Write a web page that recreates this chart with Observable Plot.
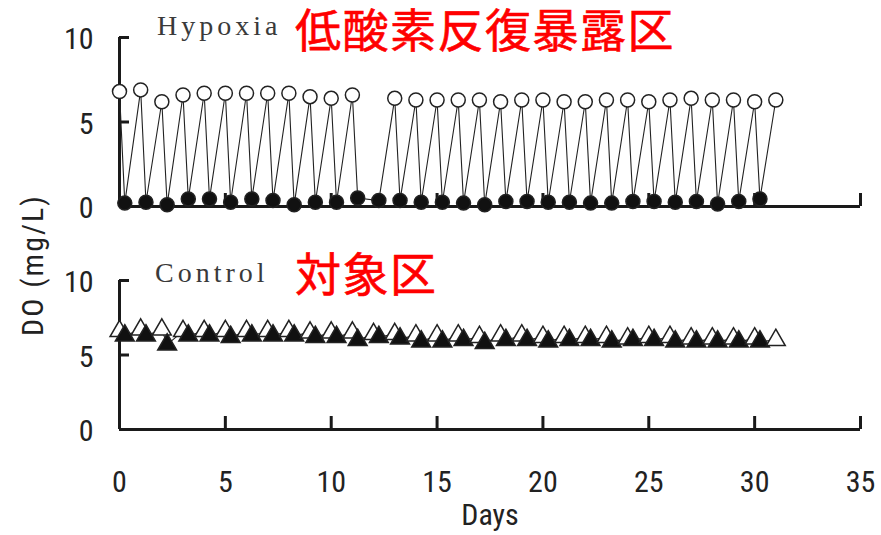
<!DOCTYPE html>
<html><head><meta charset="utf-8">
<script src="https://cdn.jsdelivr.net/npm/d3@7"></script>
<script src="https://cdn.jsdelivr.net/npm/@observablehq/plot@0.6"></script>
<style>
body{margin:0;background:#fff;}
#wrap{position:relative;width:881px;height:535px;overflow:hidden;background:#fff;}
#wrap > svg{position:absolute;left:0;}
</style></head><body><div id="wrap"></div>
<script>
// ---- data ----
const days = d3.range(0, 32);          // sampling days 0..31
const lowOffset = 0.25;                 // low-DO sample taken a quarter day later
const xTicks = [0, 5, 10, 15, 20, 25, 30, 35];
const yTicks = [0, 5, 10];
const xLabel = "Days";
const yLabel = "DO (mg/L)";
// Hypoxia group: open circle = normoxic reading, filled = hypoxic reading
const hypoxiaHigh = [6.8, 6.9, 6.2, 6.6, 6.7, 6.7, 6.7, 6.7, 6.7, 6.5, 6.4, 6.6, null, 6.4, 6.3, 6.3,
                     6.3, 6.3, 6.2, 6.3, 6.3, 6.2, 6.2, 6.3, 6.3, 6.2, 6.3, 6.4, 6.3, 6.3, 6.2, 6.3];
const hypoxiaLow  = [0.2, 0.25, 0.1, 0.45, 0.45, 0.25, 0.45, 0.35, 0.1, 0.25, 0.25, 0.5, 0.35, 0.35, 0.25, 0.25,
                     0.2, 0.1, 0.3, 0.3, 0.25, 0.25, 0.2, 0.2, 0.3, 0.3, 0.25, 0.3, 0.15, 0.3, 0.45];
// Control group: open triangle and filled triangle
const controlHigh = [6.6, 6.7, 6.7, 6.6, 6.6, 6.6, 6.6, 6.6, 6.6, 6.5, 6.5, 6.5, 6.4, 6.4, 6.3, 6.3,
                     6.3, 6.2, 6.3, 6.3, 6.2, 6.2, 6.2, 6.2, 6.1, 6.2, 6.2, 6.1, 6.1, 6.1, 6.1, 6.0];
const controlLow  = [6.3, 6.3, 5.7, 6.3, 6.3, 6.2, 6.3, 6.3, 6.3, 6.2, 6.2, 6.0, 6.2, 6.1, 5.9, 5.9,
                     6.0, 5.8, 6.0, 6.0, 5.9, 6.0, 6.0, 5.9, 6.0, 6.0, 5.9, 5.9, 5.9, 5.9, 5.9];
const titles = {hypoxia: "Hypoxia", hypoxiaJa: "低酸素反復暴露区", control: "Control", controlJa: "対象区"};

function sequence(high, low) {
  const seq = [];
  days.forEach((d, i) => {
    if (high[i] != null) seq.push({day: d, v: high[i], kind: "high"});
    if (i < low.length) seq.push({day: d + lowOffset, v: low[i], kind: "low"});
  });
  return seq;
}

const numFont = '"Liberation Sans Narrow","Arial Narrow","Roboto Condensed",sans-serif';
const ink = "#1a1a1a";

function panel(seq, {symbol, r, height, marginTop, marginBottom, bottom}) {
  return Plot.plot({
    width: 881, height, marginLeft: 119, marginRight: 21, marginTop, marginBottom,
    x: {domain: [0, 35], axis: null},
    y: {domain: [0, 10], axis: null},
    color: {type: "identity"},
    style: {fontFamily: numFont, fontSize: "30px", color: ink, background: "transparent", overflow: "visible"},
    marks: [
      Plot.ruleX([0], {stroke: ink, strokeWidth: 3}),
      Plot.ruleY([0], {stroke: ink, strokeWidth: 3}),
      Plot.axisY({ticks: [5, 10], tickSize: -10, tickFormat: () => "", stroke: ink, strokeWidth: 3, label: null}),
      Plot.axisX({ticks: xTicks.slice(1), tickSize: -13, tickFormat: () => "", stroke: ink, strokeWidth: 3, label: null}),
      Plot.line(seq, {x: "day", y: "v", stroke: "#222", strokeWidth: 1.1}),
      Plot.dot(seq, {x: "day", y: "v", symbol, r, fill: d => d.kind === "high" ? "white" : "#111",
                     stroke: "#222", strokeWidth: 1.5}),
      Plot.axisY({ticks: yTicks, tickSize: 0, tickPadding: 26, label: null, fill: "#222", fontSize: 30, dy: 2}),
      ...(bottom ? [
        Plot.axisX({ticks: xTicks, tickSize: 0, tickPadding: 41, label: null, fill: "#222", fontSize: 30}),
        Plot.text([xLabel], {text: d => d, frameAnchor: "bottom", dy: 95, fontSize: 30, fill: "#222"})
      ] : [])
    ]
  });
}

const wrap = document.getElementById("wrap");
const topPanel = panel(sequence(hypoxiaHigh, hypoxiaLow), {symbol: "circle", r: 7, height: 215, marginTop: 37, marginBottom: 9});
topPanel.style.top = "0px";
const botPanel = panel(sequence(controlHigh, controlLow), {symbol: "triangle", r: 7, height: 295, marginTop: 40, marginBottom: 106, bottom: true});
botPanel.style.top = "240px";
wrap.appendChild(topPanel);
wrap.appendChild(botPanel);

// overlay titles and y label
const ns = "http://www.w3.org/2000/svg";
const ov = document.createElementNS(ns, "svg");
ov.setAttribute("width", 881); ov.setAttribute("height", 535);
ov.style.top = "0px"; ov.style.pointerEvents = "none";
function addText(str, attrs) {
  const t = document.createElementNS(ns, "text");
  for (const k in attrs) t.setAttribute(k, attrs[k]);
  t.textContent = str; ov.appendChild(t);
}
const serif = '"Liberation Serif","DejaVu Serif",serif';
const cjk = '"Noto Sans CJK JP","Noto Sans CJK SC",sans-serif';
addText(titles.hypoxia, {x: 157, y: 35, "font-family": serif, "font-size": 28, "letter-spacing": 4, fill: "#3a3a3a"});
addText(titles.hypoxiaJa, {x: 295, y: 47, "font-family": cjk, "font-size": 46, "letter-spacing": 1.5, fill: "#ff0000", stroke: "#ff0000", "stroke-width": 0.6});
addText(titles.control, {x: 155, y: 282, "font-family": serif, "font-size": 28, "letter-spacing": 4, fill: "#3a3a3a"});
addText(titles.controlJa, {x: 295, y: 291, "font-family": cjk, "font-size": 46, "letter-spacing": 1.5, fill: "#ff0000", stroke: "#ff0000", "stroke-width": 0.6});
addText(yLabel, {transform: "translate(43,265) rotate(-90)", "text-anchor": "middle", "font-family": numFont,
                 "font-size": 30, "letter-spacing": 2, fill: "#222"});
wrap.appendChild(ov);
</script></body></html>
